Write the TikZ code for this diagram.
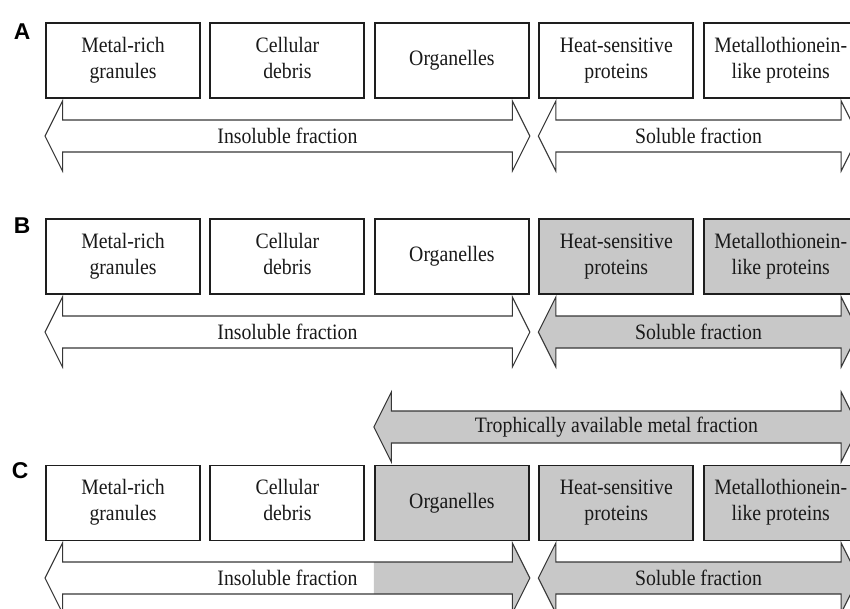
\documentclass[tikz,border=0pt]{standalone}
\usepackage{fontspec}
\setmainfont{Liberation Serif}[FakeStretch=0.9]
\newfontfamily\panelfont{Liberation Sans}
\usetikzlibrary{positioning, calc}
\definecolor{fillgray}{RGB}{200,200,200}
\definecolor{boxline}{RGB}{30,30,30}
\definecolor{arrline}{RGB}{55,55,55}
\newcommand{\boxfont}{\fontsize{12.5}{14.8}\selectfont\color{black!90}}
\newcommand{\boxstrut}{\rule[-3pt]{0pt}{12pt}}
% outline of a double arrow between two named coordinates
\newcommand{\arrowpath}[2]{(#1) -- ([shift={(0.35,0.7)}]#1) -- ([shift={(0.35,0.32)}]#1)
  -- ([shift={(-0.35,0.32)}]#2) -- ([shift={(-0.35,0.7)}]#2) -- (#2)
  -- ([shift={(-0.35,-0.7)}]#2) -- ([shift={(-0.35,-0.32)}]#2)
  -- ([shift={(0.35,-0.32)}]#1) -- ([shift={(0.35,-0.7)}]#1) -- cycle}
\tikzset{
  node distance=0.17cm, % gap between the boxes
  box/.style={draw=boxline, line width=1.1pt, fill=white, minimum width=3.08cm,
    minimum height=1.50cm, align=center, font=\boxfont, inner sep=2pt,
    execute at begin node=\boxstrut, execute at end node=\boxstrut},
  hot/.style={box, fill=fillgray}, % fraction that is passed on
  arrline/.style={draw=arrline, line width=0.6pt},
  fraclabel/.style={font=\boxfont, inner sep=1pt},
  panel/.style={font=\panelfont\fontsize{13}{14}\selectfont\bfseries},
}
\begin{document}
\begin{tikzpicture}
  \useasboundingbox (0,0) rectangle (17,-12.18);
  \clip (0,0) rectangle (17,-12.18);

  % panel A
  \node[panel] (pA) at (0.44,-0.64) {A};
  \node[box] (gA) at (2.46,-1.21) {Metal-rich\\granules};
  \node[box, right=of gA] (cA) {Cellular\\debris};
  \node[box, right=of cA] (oA) {Organelles};
  \node[box, right=of oA] (hA) {Heat-sensitive\\proteins};
  \node[box, right=of hA] (mA) {Metallothionein-\\like proteins};

  \coordinate (iA-l) at (gA.west |- 0,-2.72);
  \coordinate (iA-r) at (oA.east |- 0,-2.72);
  \coordinate (sA-l) at (hA.west |- 0,-2.72);
  \coordinate (sA-r) at (mA.east |- 0,-2.72);
  \draw[arrline, fill=white] \arrowpath{iA-l}{iA-r};
  \draw[arrline, fill=white] \arrowpath{sA-l}{sA-r};
  \node[fraclabel] (insA) at ($(iA-l)!0.5!(iA-r)$) {Insoluble fraction};
  \node[fraclabel] (solA) at ($(sA-l)!0.5!(sA-r)$) {Soluble fraction};

  % panel B
  \node[panel] (pB) at (0.44,-4.52) {B};
  \node[box] (gB) at (2.46,-5.13) {Metal-rich\\granules};
  \node[box, right=of gB] (cB) {Cellular\\debris};
  \node[box, right=of cB] (oB) {Organelles};
  \node[hot, right=of oB] (hB) {Heat-sensitive\\proteins};
  \node[hot, right=of hB] (mB) {Metallothionein-\\like proteins};

  \coordinate (iB-l) at (gB.west |- 0,-6.64);
  \coordinate (iB-r) at (oB.east |- 0,-6.64);
  \coordinate (sB-l) at (hB.west |- 0,-6.64);
  \coordinate (sB-r) at (mB.east |- 0,-6.64);
  \draw[arrline, fill=white] \arrowpath{iB-l}{iB-r};
  \draw[arrline, fill=fillgray] \arrowpath{sB-l}{sB-r};
  \node[fraclabel] (insB) at ($(iB-l)!0.5!(iB-r)$) {Insoluble fraction};
  \node[fraclabel] (solB) at ($(sB-l)!0.5!(sB-r)$) {Soluble fraction};

  % panel C
  \node[panel] (pC) at (0.40,-9.42) {C};
  \node[box] (gC) at (2.46,-10.06) {Metal-rich\\granules};
  \node[box, right=of gC] (cC) {Cellular\\debris};
  \node[hot, right=of cC] (oC) {Organelles};
  \node[hot, right=of oC] (hC) {Heat-sensitive\\proteins};
  \node[hot, right=of hC] (mC) {Metallothionein-\\like proteins};

  \coordinate (tC-l) at (oC.west |- 0,-8.54);
  \coordinate (tC-r) at (mC.east |- 0,-8.54);
  \draw[arrline, fill=fillgray] \arrowpath{tC-l}{tC-r};
  \node[fraclabel] (troC) at ($(tC-l)!0.5!(tC-r)$) {Trophically available metal fraction};

  \coordinate (iC-l) at (gC.west |- 0,-11.56);
  \coordinate (iC-r) at (oC.east |- 0,-11.56);
  \coordinate (sC-l) at (hC.west |- 0,-11.56);
  \coordinate (sC-r) at (mC.east |- 0,-11.56);
  \fill[white] \arrowpath{iC-l}{iC-r};
  \begin{scope}
    \clip (oC.west |- 0,-10.5) rectangle (17,-12.5);
    \fill[fillgray] \arrowpath{iC-l}{iC-r};
  \end{scope}
  \draw[arrline] \arrowpath{iC-l}{iC-r};
  \draw[arrline, fill=fillgray] \arrowpath{sC-l}{sC-r};
  \node[fraclabel] (insC) at ($(iC-l)!0.5!(iC-r)$) {Insoluble fraction};
  \node[fraclabel] (solC) at ($(sC-l)!0.5!(sC-r)$) {Soluble fraction};
\end{tikzpicture}
\end{document}
